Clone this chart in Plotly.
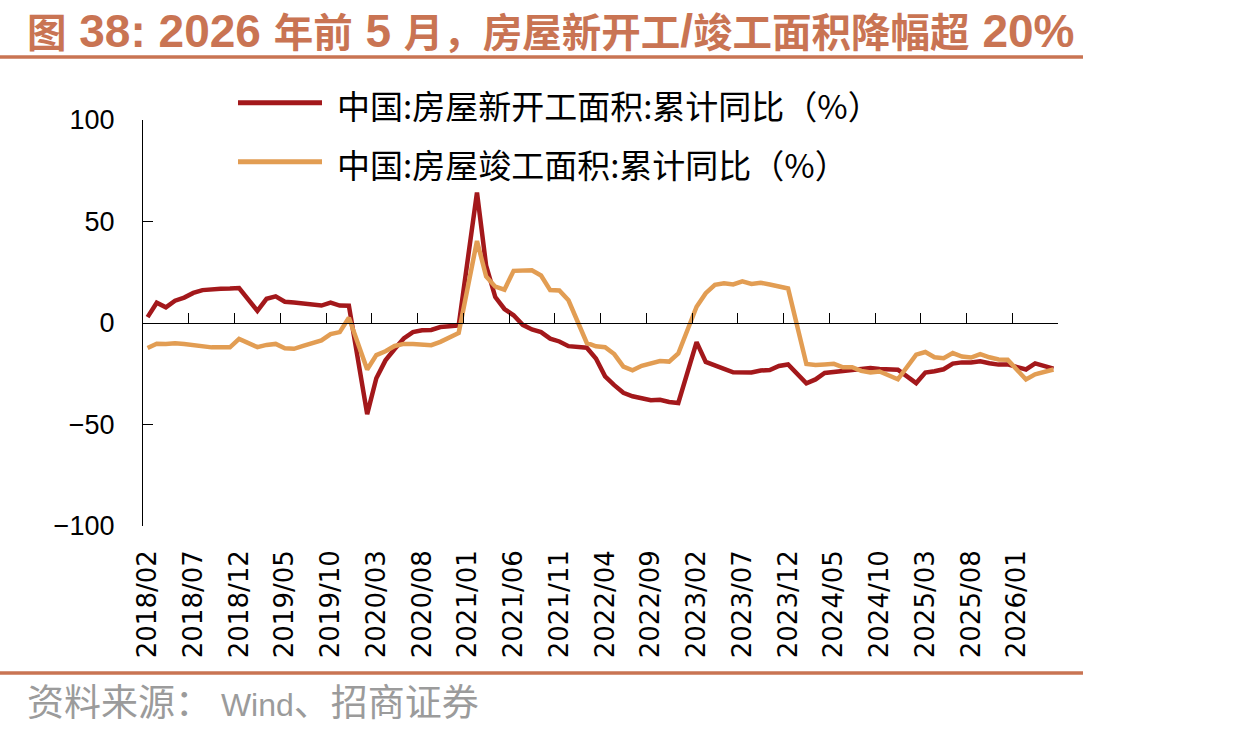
import plotly.graph_objects as go
import pandas as pd

# ---------------- data ----------------
MONTHS = pd.period_range("2018-02", "2026-05", freq="M").strftime("%Y/%m").tolist()

# 中国:房屋新开工面积:累计同比(%)  (None = January, no release)
NEW_STARTS = [
    2.9, 10.0, 7.7, 11.0, 12.5, 14.8, 16.2, 16.8, 16.9, 17.0, 17.2,
    None, 6.0, 11.9, 13.1, 10.5, 10.1, 9.5, 8.9, 8.6, 10.0, 8.6, 8.5,
    None, -44.9, -27.2, -18.4, -12.8, -7.6, -4.5, -3.6, -3.4, -2.0, -1.6, -1.2,
    None, 64.3, 28.2, 12.8, 6.9, 3.8, -0.9, -3.2, -4.5, -7.7, -9.1, -11.4,
    None, -12.2, -17.5, -26.3, -30.6, -34.4, -36.1, -37.2, -38.0, -37.8, -38.9, -39.4,
    None, -9.4, -19.2, -21.2, -22.6, -24.3, -24.5, -24.4, -23.4, -23.2, -21.2, -20.4,
    None, -29.7, -27.8, -24.6, -24.2, -23.7, -23.2, -22.5, -22.2, -22.6, -23.0, -23.0,
    None, -29.6, -24.4, -23.8, -22.8, -20.0, -19.4, -19.5, -18.9, -19.8, -20.5, -20.4,
    None, -22.9, -19.9, -21.2, -22.5,
]

# 中国:房屋竣工面积:累计同比(%)
COMPLETIONS = [
    -12.3, -10.2, -10.3, -10.0, -10.3, -11.0, -11.2, -12.0, -12.0, -12.0, -7.8,
    None, -11.9, -10.8, -10.3, -12.4, -12.7, -11.3, -10.0, -8.6, -5.5, -4.5, 2.6,
    None, -22.9, -15.8, -13.9, -11.3, -10.3, -10.4, -10.6, -10.9, -9.3, -7.2, -4.9,
    None, 40.4, 22.9, 17.9, 16.4, 25.7, 25.7, 26.0, 23.4, 16.2, 16.0, 11.2,
    None, -9.8, -11.5, -11.9, -15.3, -21.5, -23.3, -21.1, -19.9, -18.7, -19.0, -15.0,
    None, 8.0, 14.7, 18.8, 19.6, 19.0, 20.5, 19.2, 19.8, 19.0, 17.9, 17.0,
    None, -20.2, -20.7, -20.4, -20.1, -21.8, -21.8, -23.6, -24.4, -23.9, -26.0, -27.7,
    None, -15.6, -14.3, -16.9, -17.3, -14.8, -16.5, -17.0, -15.3, -16.9, -18.0, -18.1,
    None, -27.8, -25.3, -24.2, -22.9,
]

SERIES_NAMES = ["中国:房屋新开工面积:累计同比（%）", "中国:房屋竣工面积:累计同比（%）"]
TICK_EVERY = 5
TICK_LABELS = MONTHS[::TICK_EVERY]
Y_TICKS = [-100, -50, 0, 50, 100]

# ---------------- style ----------------
RED = "#A3181B"
ORANGE = "#E29D53"
ACCENT = "#C97453"
GREY = "#9B9B9B"

W, H = 1239, 734
ML, MR, MT, MB = 143, 181, 120, 208
PW, PH = W - ML - MR, H - MT - MB


def fx(px):
    return (px - ML) / PW


def fy(py):
    return (H - MB - py) / PH


x = list(range(len(MONTHS)))
xr = [-0.5, len(MONTHS) - 0.5]

fig = go.Figure()
fig.add_trace(go.Scatter(x=x, y=NEW_STARTS, name=SERIES_NAMES[0], mode="lines",
                         line=dict(color=RED, width=4.5), connectgaps=True,
                         xaxis="x", yaxis="y", showlegend=False))
fig.add_trace(go.Scatter(x=x, y=COMPLETIONS, name=SERIES_NAMES[1], mode="lines",
                         line=dict(color=ORANGE, width=4.5), connectgaps=True,
                         xaxis="x2", yaxis="y", showlegend=False))

latin = "font-family:Liberation Sans;font-size:46px"
title_html = (f"<b>图<span style='{latin}'> 38: 2026 </span>年前<span style='{latin}'> 5 </span>"
              f"月，房屋新开工<span style='{latin}'>/</span>竣工面积降幅超"
              f"<span style='{latin}'> 20%</span></b>")
source_html = "资料来源：<span style='font-family:Liberation Sans;font-size:32px'> Wind</span>、招商证券"

annotations = [
    dict(text=title_html, x=fx(25), y=fy(30), xref="paper", yref="paper",
         xanchor="left", yanchor="middle", showarrow=False,
         font=dict(family="Noto Sans CJK SC", size=39.5, color=ACCENT)),
    dict(text=source_html, x=fx(25), y=fy(700), xref="paper", yref="paper",
         xanchor="left", yanchor="middle", showarrow=False,
         font=dict(family="Noto Sans CJK SC", size=37, color=GREY)),
]
shapes = [
    dict(type="line", xref="paper", yref="paper", x0=fx(0), x1=fx(1083), y0=fy(57), y1=fy(57),
         line=dict(color=ACCENT, width=3.5)),
    dict(type="line", xref="paper", yref="paper", x0=fx(0), x1=fx(1083), y0=fy(673), y1=fy(673),
         line=dict(color=ACCENT, width=3.5)),
]
for name, col, py in zip(SERIES_NAMES, [RED, ORANGE], [102.7, 161.7]):
    shapes.append(dict(type="line", xref="paper", yref="paper", x0=fx(238), x1=fx(322),
                       y0=fy(py), y1=fy(py), line=dict(color=col, width=5)))
    annotations.append(dict(text=name, x=fx(335), y=fy(py + 2), xref="paper", yref="paper",
                            xanchor="left", yanchor="middle", showarrow=False,
                            font=dict(family="Noto Sans CJK SC", size=33, color="black")))

fig.update_layout(
    width=W, height=H,
    margin=dict(l=ML, r=MR, t=MT, b=MB, pad=0),
    paper_bgcolor="white", plot_bgcolor="white",
    showlegend=False,
    xaxis=dict(range=xr, tickmode="array", tickvals=x[::TICK_EVERY], ticktext=TICK_LABELS,
               tickangle=-90, ticks="", showline=False, showgrid=False, zeroline=False,
               tickfont=dict(family="DejaVu Sans", size=26, color="black"),
               ticklabelstandoff=18),
    xaxis2=dict(overlaying="x", anchor="free", position=0.5, range=xr,
                tickmode="array", tickvals=[v + TICK_EVERY - 0.5 for v in x[::TICK_EVERY]],
                ticks="inside", ticklen=10, tickwidth=1.3, tickcolor="black",
                showline=True, linecolor="black", linewidth=1.3,
                showticklabels=False, showgrid=False, zeroline=False),
    yaxis=dict(range=[-100, 100], tickmode="array", tickvals=Y_TICKS,
               ticks="inside", ticklen=10, tickwidth=1.3, tickcolor="black",
               showline=True, linecolor="black", linewidth=1.3,
               showgrid=False, zeroline=False,
               tickfont=dict(family="Liberation Sans", size=27, color="black"),
               ticklabelstandoff=22),
    annotations=annotations,
    shapes=shapes,
)

fig.write_html("out.html")
